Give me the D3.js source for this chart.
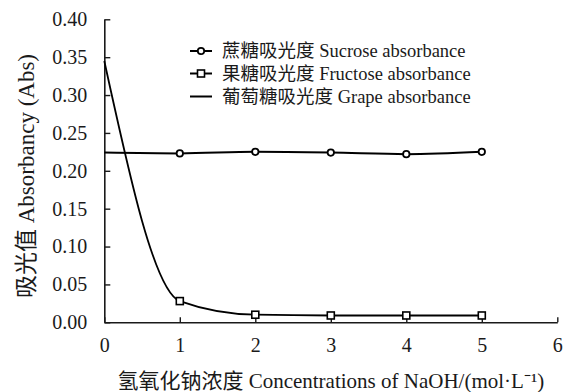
<!DOCTYPE html>
<html>
<head>
<meta charset="utf-8">
<script src="https://cdn.jsdelivr.net/npm/d3@7"></script>
<style>
  html, body { margin: 0; padding: 0; background: #fff; }
  svg { display: block; }
</style>
</head>
<body>
<svg id="chart" width="571" height="392"></svg>
<script>
// NaOH concentration (mol/L)
const concentrations = [0, 1, 2, 3, 4, 5];
// Absorbance readings per sugar
const sucrose  = [0.224, 0.223, 0.225, 0.224, 0.222, 0.225];
const fructose = [null, 0.028, 0.010, 0.009, 0.009, 0.009];
const grape    = [0.345, 0.028, 0.010, 0.009, 0.009, 0.009];
const xTicks = [0, 1, 2, 3, 4, 5, 6];
const yTicks = [0, 0.05, 0.10, 0.15, 0.20, 0.25, 0.30, 0.35, 0.40];
const legendLabels = ["蔗糖吸光度 Sucrose absorbance", "果糖吸光度 Fructose absorbance", "葡萄糖吸光度 Grape absorbance"];
const xTitle = "氢氧化钠浓度 Concentrations of NaOH/(mol·L⁻¹)";
const yTitle = "吸光值 Absorbancy (Abs)";

const FONT = "'Liberation Serif', 'Noto Sans CJK SC', serif";
const ink = "#1a1a1a";

const svg = d3.select("#chart");
const x = d3.scaleLinear().domain([0, 6]).range([104.3, 557.3]);
const y = d3.scaleLinear().domain([0, 0.4]).range([322.3, 19.3]);

// axes with inward ticks
const gx = svg.append("g").attr("transform", `translate(0,${y(0)})`)
  .call(d3.axisBottom(x).tickValues(xTicks).tickFormat(d3.format("d"))
    .tickSizeInner(-5).tickSizeOuter(0).tickPadding(16));
const gy = svg.append("g").attr("transform", `translate(${x(0)},0)`)
  .call(d3.axisLeft(y).tickValues(yTicks).tickFormat(d3.format(".2f"))
    .tickSizeInner(-6).tickSizeOuter(0).tickPadding(17));
[gx, gy].forEach(g => {
  g.selectAll("path.domain").attr("stroke", ink).attr("stroke-width", 1.6);
  g.selectAll(".tick line").attr("stroke", ink).attr("stroke-width", 1.4);
  g.selectAll(".tick text").style("font-family", FONT).attr("font-size", 20).attr("fill", ink);
});

const series = (vals) => concentrations.map((c, i) => ({ c, v: vals[i] })).filter(d => d.v != null);
const line = d3.line().x(d => x(d.c)).y(d => y(d.v)).curve(d3.curveMonotoneX);

// smoothed curves; the fructose readings lie on the glucose curve from 1 mol/L on
svg.append("path").datum(series(grape)).attr("d", line)
  .attr("fill", "none").attr("stroke", "#000").attr("stroke-width", 1.8);
svg.append("path").datum(series(sucrose)).attr("d", line)
  .attr("fill", "none").attr("stroke", "#000").attr("stroke-width", 2);

// markers
svg.append("g").selectAll("circle").data(series(sucrose).filter(d => d.c > 0)).join("circle")
  .attr("cx", d => x(d.c)).attr("cy", d => y(d.v)).attr("r", 3.2)
  .attr("fill", "#fff").attr("stroke", "#000").attr("stroke-width", 1.8);
svg.append("g").selectAll("rect").data(series(fructose)).join("rect")
  .attr("x", d => x(d.c) - 3.5).attr("y", d => y(d.v) - 3.5).attr("width", 7).attr("height", 7)
  .attr("fill", "#fff").attr("stroke", "#000").attr("stroke-width", 1.6);

// legend
const legend = svg.append("g");
const rows = [51, 73.5, 96.5];
legendLabels.forEach((lab, i) => {
  const g = legend.append("g").attr("transform", `translate(190,${rows[i]})`);
  g.append("line").attr("x1", 0).attr("x2", 22).attr("stroke", "#000").attr("stroke-width", 2);
  if (i === 0) g.append("circle").attr("cx", 11).attr("r", 3.2).attr("fill", "#fff").attr("stroke", "#000").attr("stroke-width", 1.8);
  if (i === 1) g.append("rect").attr("x", 7.5).attr("y", -3.5).attr("width", 7).attr("height", 7).attr("fill", "#fff").attr("stroke", "#000").attr("stroke-width", 1.6);
  g.append("text").attr("x", 32).attr("dy", "0.35em").style("font-family", FONT)
    .attr("font-size", 18.5).attr("fill", ink).text(lab);
});

// axis titles
svg.append("text").attr("x", (x(0) + x(6)) / 2).attr("y", 387.5).attr("text-anchor", "middle")
  .style("font-family", FONT).attr("font-size", 21).attr("fill", ink).text(xTitle);
svg.append("text").attr("transform", `translate(33.5,176) rotate(-90)`).attr("text-anchor", "middle")
  .style("font-family", FONT).attr("font-size", 23).attr("fill", ink).text(yTitle);
</script>
</body>
</html>
